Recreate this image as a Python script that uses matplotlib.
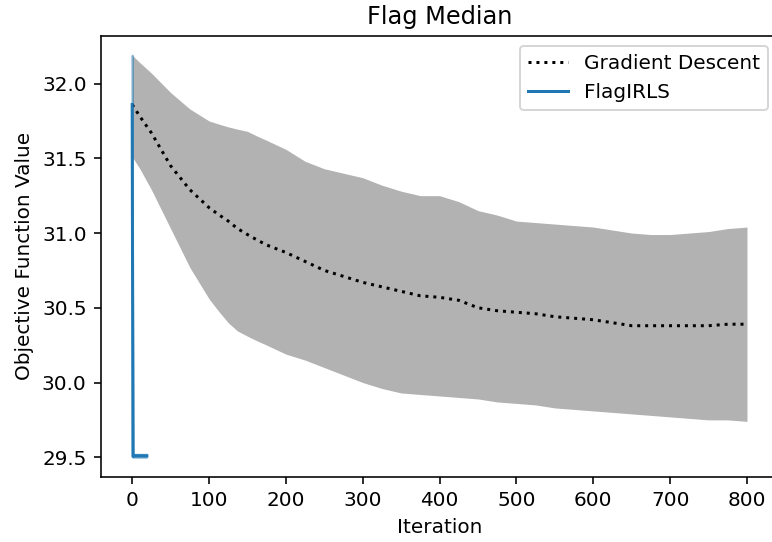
import numpy as np
import matplotlib
matplotlib.use("Agg")
import matplotlib.pyplot as plt

# iterations where values were read
gd_iters = [0, 10, 25, 50, 75, 100, 112, 125, 137, 150, 162, 175, 200, 225, 250,
            275, 300, 325, 350, 375, 400, 425, 450, 475, 500, 525, 550, 575, 600,
            625, 650, 675, 700, 725, 750, 775, 800]

gd_mean = [31.86, 31.78, 31.67, 31.45, 31.29, 31.17, 31.125, 31.08, 31.03, 30.99,
           30.955, 30.92, 30.87, 30.81, 30.75, 30.71, 30.67, 30.64, 30.61, 30.58,
           30.57, 30.55, 30.50, 30.48, 30.47, 30.46, 30.44, 30.43, 30.42, 30.40,
           30.38, 30.38, 30.38, 30.38, 30.38, 30.39, 30.39]

gd_upper = [32.19, 32.14, 32.07, 31.94, 31.83, 31.75, 31.73, 31.71, 31.695, 31.68,
            31.65, 31.62, 31.56, 31.48, 31.43, 31.40, 31.37, 31.32, 31.28, 31.25,
            31.25, 31.21, 31.15, 31.12, 31.08, 31.07, 31.06, 31.05, 31.04, 31.02,
            31.00, 30.99, 30.99, 31.00, 31.01, 31.03, 31.04]

gd_lower = [31.51, 31.43, 31.29, 31.03, 30.77, 30.56, 30.48, 30.40, 30.345, 30.31,
            30.28, 30.25, 30.19, 30.15, 30.10, 30.05, 30.00, 29.96, 29.93, 29.92,
            29.91, 29.90, 29.89, 29.87, 29.86, 29.85, 29.83, 29.82, 29.81, 29.80,
            29.79, 29.78, 29.77, 29.76, 29.75, 29.75, 29.74]

irls_iters = [0, 1, 2, 5, 10, 19]
irls_mean = [31.86, 29.505, 29.51, 29.51, 29.51, 29.51]
irls_upper = [32.19, 29.52, 29.52, 29.52, 29.52, 29.52]
irls_lower = [31.51, 29.50, 29.50, 29.50, 29.50, 29.50]

DPI = 144
fig = plt.figure(figsize=(772 / DPI, 542 / DPI), dpi=DPI)
ax = fig.add_axes([0.1304, 0.1205, 1.0084 - 0.1304, 0.9341 - 0.1205])

ax.plot(gd_iters, gd_mean, color="k", linestyle=":", label="Gradient Descent")
ax.fill_between(gd_iters, gd_lower, gd_upper, color="k", alpha=0.3, linewidth=0)

ax.plot(irls_iters, irls_mean, color="tab:blue", label="FlagIRLS")
ax.fill_between(irls_iters, irls_lower, irls_upper, color="tab:blue", alpha=0.5,
                linewidth=1)

ax.set_xlim(-41, 841)
ax.set_ylim(29.37, 32.32)
ax.set_xticks([0, 100, 200, 300, 400, 500, 600, 700, 800])
ax.set_yticks([29.5, 30.0, 30.5, 31.0, 31.5, 32.0])
ax.set_xlabel("Iteration")
ax.set_ylabel("Objective Function Value")
ax.set_title("Flag Median")
ax.legend(loc="upper right")

fig.savefig("out.png", dpi=DPI)
